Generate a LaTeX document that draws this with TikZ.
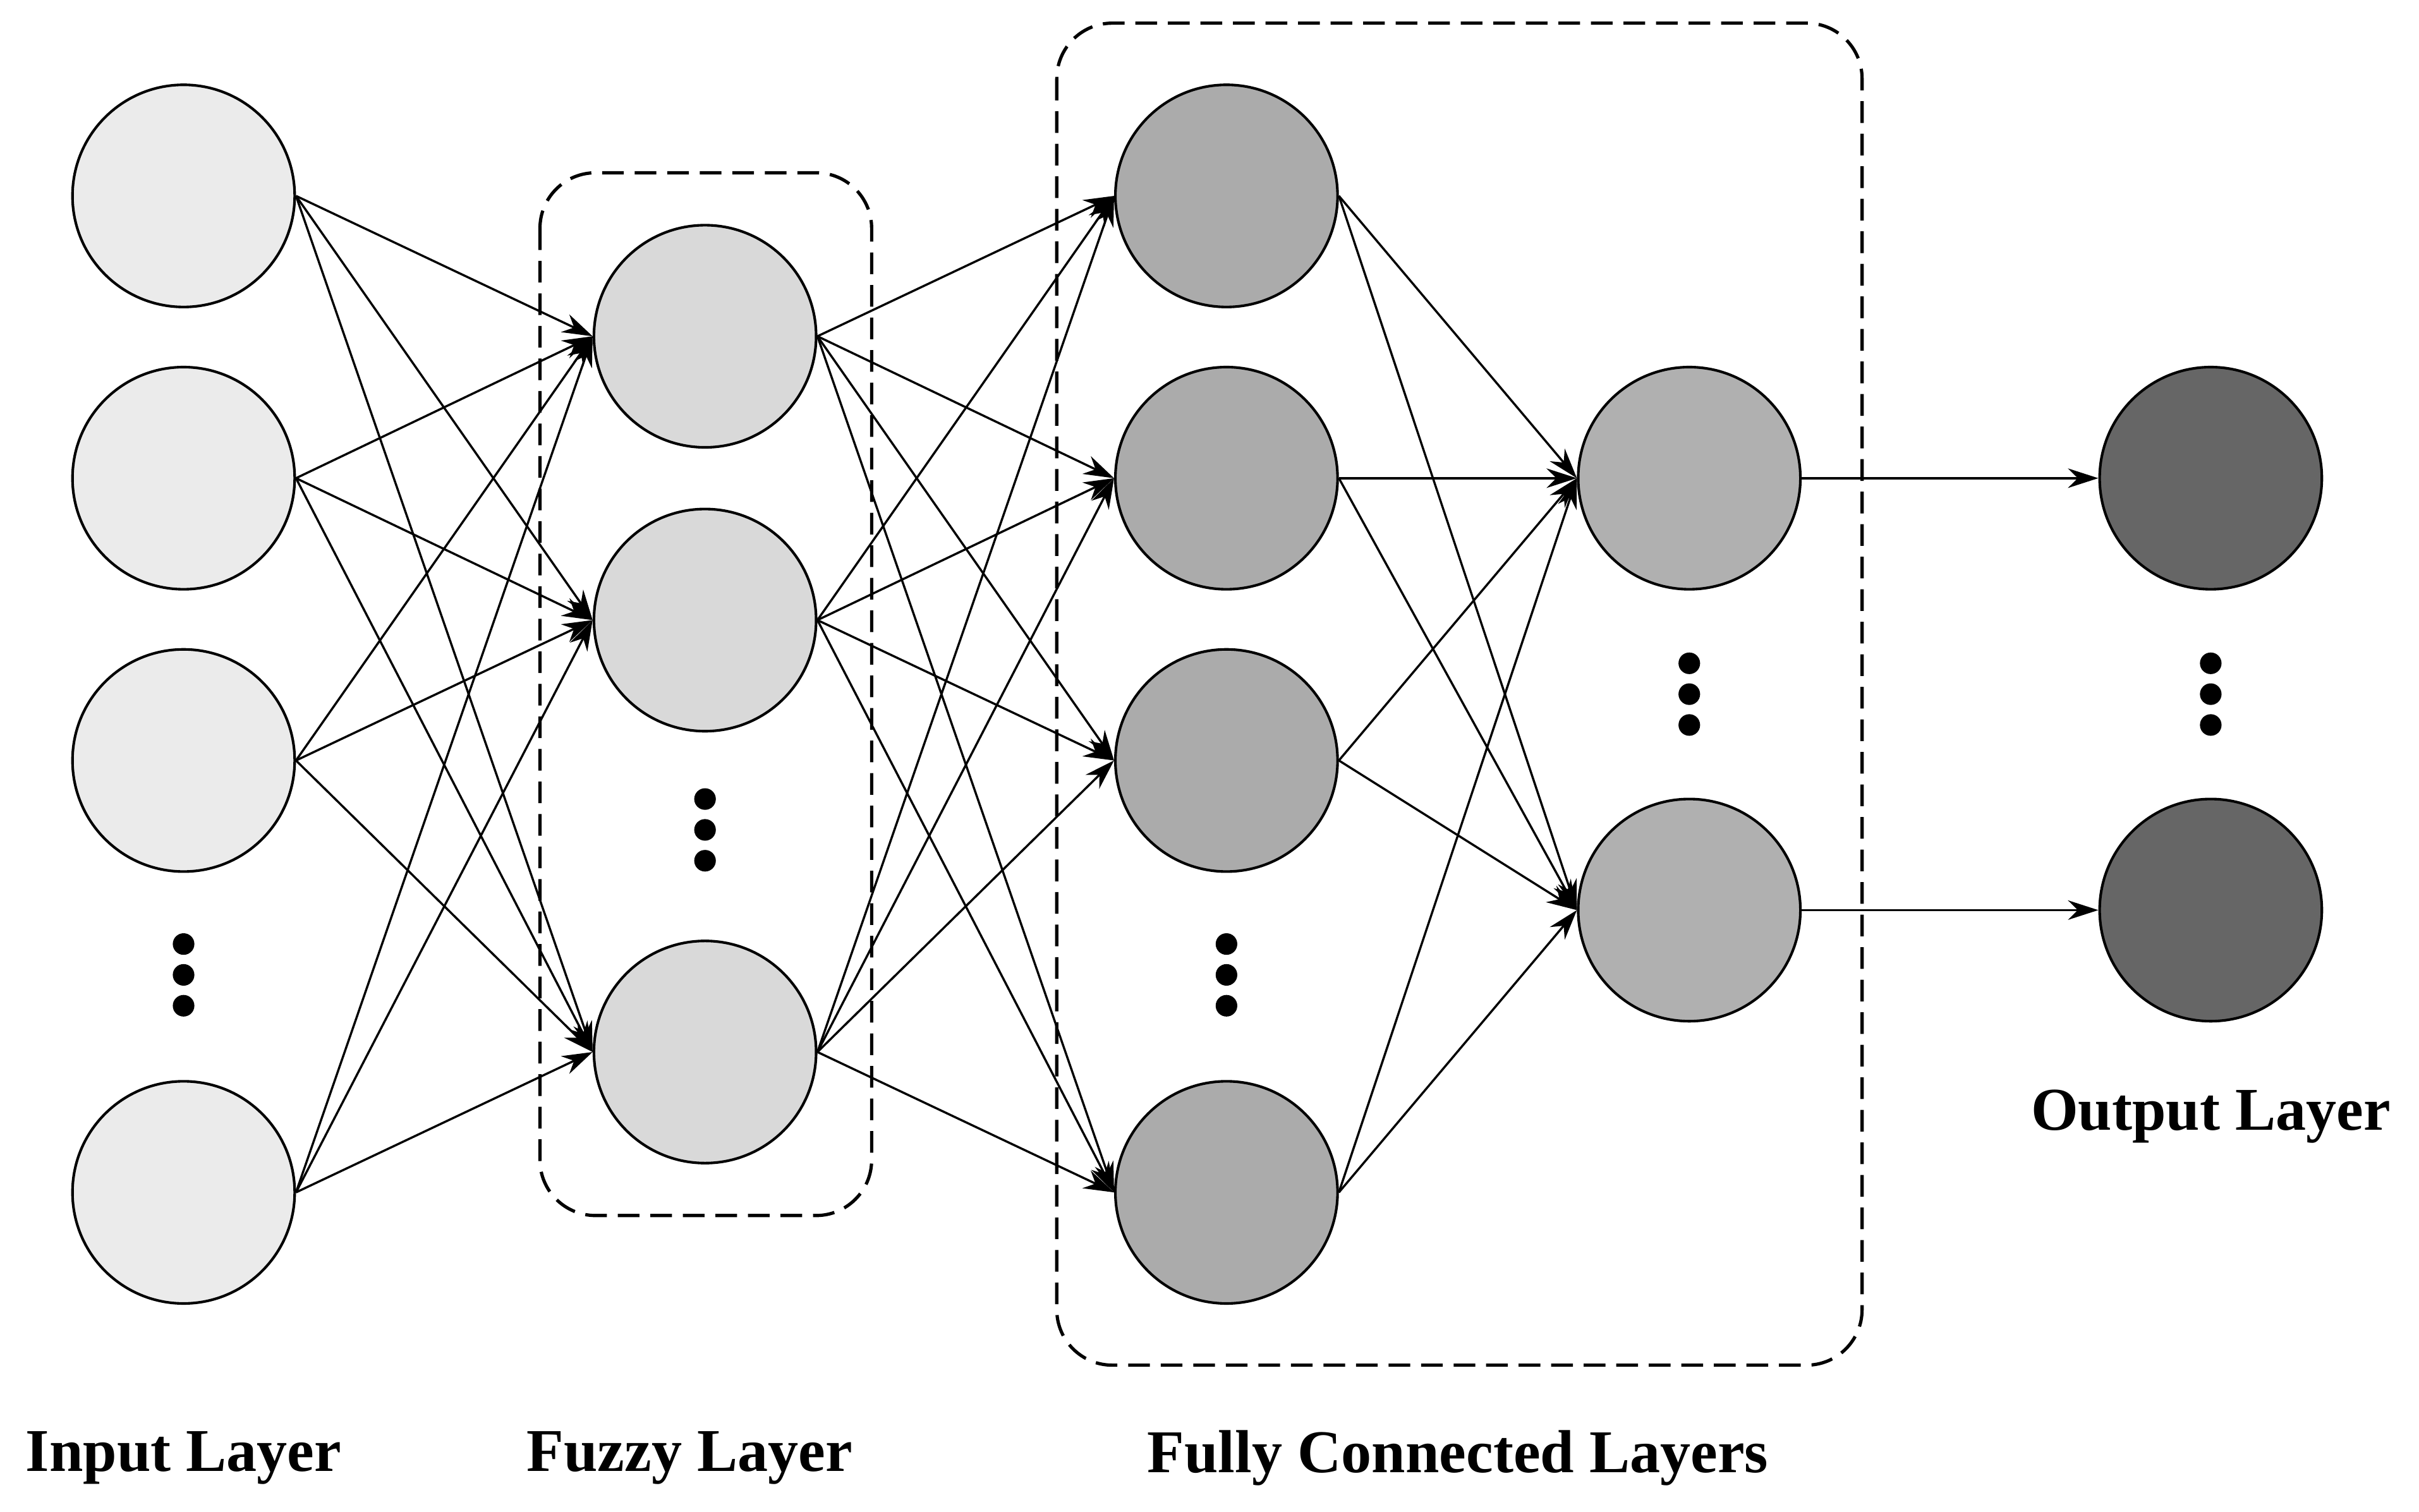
\documentclass[tikz,border=0pt]{standalone}
\usepackage{fontspec}
\setmainfont{Liberation Serif}
\usetikzlibrary{arrows.meta}
\begin{document}
\begin{tikzpicture}[x=0.025cm,y=-0.025cm,
  neu/.style={circle,draw,line width=1.2pt,minimum size=3.6cm,inner sep=0},
  inp/.style={neu,fill=black!8},
  fz/.style={neu,fill=black!15},
  fc/.style={neu,fill=black!33},
  fcb/.style={neu,fill=black!31},
  outp/.style={neu,fill=black!60},
  con/.style={line width=1pt,-{Stealth[length=14pt,width=9pt]}},
  box/.style={draw,line width=1.5pt,rounded corners=0.9cm,dash pattern=on 10pt off 5pt},
  lab/.style={font=\fontsize{28}{32}\selectfont\bfseries},
  dot/.style={circle,fill=black,inner sep=0,minimum size=0.35cm}]
\useasboundingbox (0,0) rectangle (1568,980);
\draw[box] (350,112) rectangle (565,788);
\draw[box] (685,15) rectangle (1207,885);
\foreach \n/\y in {1/127,2/310,3/493,4/773} \node[inp] (i\n) at (119,\y) {};
\foreach \n/\y in {1/218,2/402,3/682} \node[fz] (f\n) at (457,\y) {};
\foreach \n/\y in {1/127,2/310,3/493,4/773} \node[fc] (c\n) at (795,\y) {};
\foreach \n/\y in {1/310,2/590} \node[fcb] (d\n) at (1095,\y) {};
\foreach \n/\y in {1/310,2/590} \node[outp] (o\n) at (1433,\y) {};
\foreach \x/\y in {119/632,457/538,795/632,1095/450,1433/450}{
  \node[dot] at (\x,\y-20) {}; \node[dot] at (\x,\y) {}; \node[dot] at (\x,\y+20) {};}
\foreach \a in {1,...,4} \foreach \b in {1,2,3} \draw[con] (i\a.east) -- (f\b.west);
\foreach \a in {1,2,3} \foreach \b in {1,...,4} \draw[con] (f\a.east) -- (c\b.west);
\foreach \a in {1,...,4} \foreach \b in {1,2} \draw[con] (c\a.east) -- (d\b.west);
\draw[con] (d1.east) -- (o1.west);
\draw[con] (d2.east) -- (o2.west);
\node[lab] (l1) at (119,945) {Input Layer};
\node[lab] (l2) at (447,945) {Fuzzy Layer};
\node[lab] (l3) at (945,945) {Fully Connected Layers};
\node[lab] (l4) at (1433,724) {Output Layer};
\end{tikzpicture}
\end{document}
